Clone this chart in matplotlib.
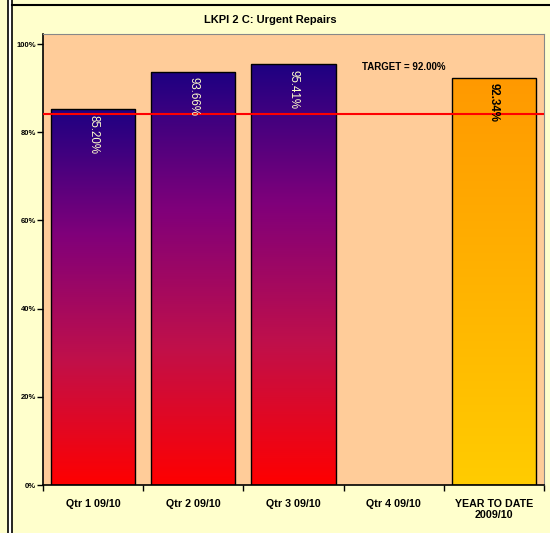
import numpy as np
import matplotlib.pyplot as plt
from matplotlib import font_manager
from matplotlib.colors import LinearSegmentedColormap
from matplotlib.patches import Rectangle

plt.rcParams['font.family'] = ['Liberation Sans', 'DejaVu Sans']

# pick the regular-width Liberation Sans files (avoid the Narrow variant)
font_files = {}
for f in font_manager.findSystemFonts():
    name = f.split('/')[-1]
    if name == 'LiberationSans-Bold.ttf':
        font_files['bold'] = f
    elif name == 'LiberationSans-Regular.ttf':
        font_files['regular'] = f


def fp(size, bold=False):
    key = 'bold' if bold else 'regular'
    if key in font_files:
        return font_manager.FontProperties(fname=font_files[key], size=size)
    return font_manager.FontProperties(family='Liberation Sans', size=size,
                                       weight='bold' if bold else 'normal')


categories = ["Qtr 1 09/10", "Qtr 2 09/10", "Qtr 3 09/10", "Qtr 4 09/10", "YEAR TO DATE\n2009/10"]
values = [0.8520, 0.9366, 0.9541, np.nan, 0.9234]
labels = ["85.20%", "93.66%", "95.41%", "", "92.34%"]
target_line = 0.841
target_text = "TARGET = 92.00%"

fig = plt.figure(figsize=(5.5, 5.33), dpi=100)
fig.patch.set_facecolor('#FFFFCC')

# outer frame lines (left double border)
fig.add_artist(Rectangle((8 / 550, -0.01), 4 / 550, 1.02, transform=fig.transFigure,
                         facecolor='white', edgecolor='black', linewidth=1.2))
fig.add_artist(plt.Line2D([12 / 550, 1], [1 - 5 / 533, 1 - 5 / 533],
                          transform=fig.transFigure, color='black', linewidth=1.5))

ax = fig.add_axes([43 / 550, 48 / 533, 501 / 550, 451 / 533])
ax.set_facecolor('#FFCC99')

x = np.arange(len(categories))
width = 0.84

navy_red = LinearSegmentedColormap.from_list('nr', ['#FF0000', '#C0104A', '#80007A', '#1E0082'])
gold = LinearSegmentedColormap.from_list('go', ['#FFCC00', '#FF9900'])
grad = np.linspace(0, 1, 256).reshape(-1, 1)

bars = ax.bar(x, np.nan_to_num(values), width=width, facecolor='none',
              edgecolor='black', linewidth=1.0, zorder=3)
for i, b in enumerate(bars):
    if np.isnan(values[i]):
        b.set_visible(False)
        continue
    cmap = gold if i == len(categories) - 1 else navy_red
    im = ax.imshow(grad, cmap=cmap, origin='lower', aspect='auto',
                   extent=[b.get_x(), b.get_x() + width, 0, values[i]], zorder=2)
    im.set_clip_path(b)

for i, v in enumerate(values):
    if np.isnan(v):
        continue
    last = i == len(categories) - 1
    ax.text(x[i], v - 0.012, labels[i], rotation=270, ha='center', va='top',
            fontproperties=fp(8.3, bold=last), color='black' if last else '#FFFFCC',
            zorder=5)

ax.axhline(target_line, color='#FF0000', linewidth=1.5, zorder=4)
ax.text(3.1, 0.948, target_text, fontproperties=fp(7, bold=True), ha='center', va='center')

ax.set_xlim(-0.5, len(categories) - 0.5)
ax.set_ylim(0, 1.023)
yt = np.arange(0, 1.01, 0.2)
ax.set_yticks(yt)
ax.set_yticklabels([f"{int(round(t * 100))}%" for t in yt])
for lab in ax.get_yticklabels():
    lab.set_fontproperties(fp(5.5, bold=True))
ax.set_xticks(x)
ax.set_xticklabels(categories)
for lab in ax.get_xticklabels():
    lab.set_fontproperties(fp(7.7, bold=True))
ax.set_xticks(np.arange(-0.5, len(categories), 1), minor=True)
ax.tick_params(axis='x', which='major', length=0, pad=10)
ax.tick_params(axis='x', which='minor', length=4, width=1, direction='out')
ax.tick_params(axis='y', length=4, width=1, pad=1)

ax.spines['left'].set_linewidth(1.2)
ax.spines['bottom'].set_linewidth(1.2)
ax.spines['top'].set_color('#888888')
ax.spines['right'].set_color('#888888')

fig.text(270 / 550, 1 - 20 / 533, "LKPI 2 C: Urgent Repairs", ha='center', va='center',
         fontproperties=fp(8, bold=True))

fig.savefig('out.png', dpi=100, facecolor=fig.get_facecolor())
